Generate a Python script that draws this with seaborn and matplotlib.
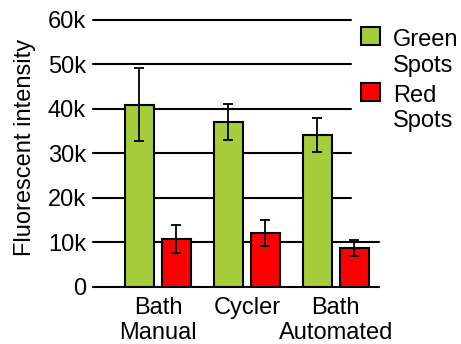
import numpy as np
import pandas as pd
import matplotlib
matplotlib.use("Agg")
import matplotlib.pyplot as plt
import matplotlib.patches as mpatches
from matplotlib.legend_handler import HandlerPatch
import seaborn as sns

# values
methods = ["Bath\nManual", "Cycler", "Bath\nAutomated"]
spots = ["Green\nSpots", "Red\nSpots"]
green_mean = [41000, 37100, 34100]
green_err = [8100, 4100, 3800]
red_mean = [10800, 12200, 8800]
red_err = [3200, 2900, 1800]
yticks = [0, 10000, 20000, 30000, 40000, 50000, 60000]
ytick_labels = ["0", "10k", "20k", "30k", "40k", "50k", "60k"]

df = pd.DataFrame({
    "method": methods * 2,
    "spot": [spots[0]] * 3 + [spots[1]] * 3,
    "value": green_mean + red_mean,
    "err": green_err + red_err,
})

FS = 17

sns.set_style("white")
plt.rcParams["font.family"] = ["Liberation Sans", "DejaVu Sans"]
plt.rcParams["font.size"] = FS
for k in ["text.color", "axes.labelcolor", "xtick.color", "ytick.color"]:
    plt.rcParams[k] = "black"

fig = plt.figure(figsize=(4.61, 3.44), dpi=100)
ax = fig.add_axes([0.2017, 0.1657, 0.6204, 0.7762])

sns.barplot(data=df, x="method", y="value", hue="spot", order=methods,
            hue_order=spots, palette=["#a5cd39", "#ff0000"], width=0.83,
            gap=0.215, edgecolor="black", linewidth=1.5, errorbar=None,
            saturation=1, ax=ax)

# error bars placed at the centres of the drawn bars
for cont, (name, grp) in zip(ax.containers, df.groupby("spot", sort=False)):
    xs = [p.get_x() + p.get_width() / 2 for p in cont.patches]
    ax.errorbar(xs, grp["value"].values, yerr=grp["err"].values, fmt="none",
                ecolor="black", elinewidth=1.3, capsize=3.5, capthick=1.3,
                zorder=5)

ax.set_ylim(0, 60000)
ax.set_xlim(-0.73, 2.485)
ax.set_yticks(yticks)
ax.set_yticklabels(ytick_labels)
for y in yticks:
    ax.axhline(y, xmin=0, xmax=1 if y <= 10000 else 0.902, color="black",
               lw=1.5, zorder=0, clip_on=False)
for s in ax.spines.values():
    s.set_visible(False)
ax.tick_params(axis="both", length=0, labelsize=FS)
ax.tick_params(axis="y", pad=5)
ax.tick_params(axis="x", pad=7)
ax.set_xlabel("")
ax.set_ylabel("Fluorescent intensity", fontsize=FS)
ax.yaxis.set_label_coords(-0.2, 0.522)


# legend swatch sits next to the first line of the two-line label
def top_patch(legend, orig_handle, xdescent, ydescent, width, height, fontsize):
    return mpatches.Rectangle((-xdescent, -ydescent + 12.5), width, height)


handles, labels = ax.get_legend_handles_labels()
ax.legend(handles, labels, frameon=False, loc="upper left",
          bbox_to_anchor=(0.905, 1.0),
          handler_map={type(handles[0]): HandlerPatch(patch_func=top_patch)},
          handlelength=0.8, handleheight=0.8, handletextpad=0.55,
          labelspacing=0.35, borderaxespad=0, fontsize=FS)

fig.savefig("out.png", dpi=100, facecolor="white")
